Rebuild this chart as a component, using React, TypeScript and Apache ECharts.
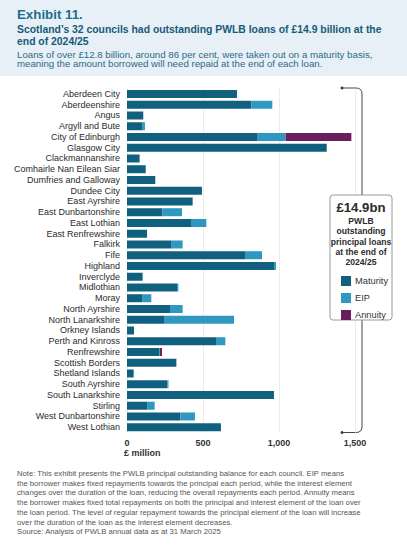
import React, { useEffect, useRef } from "react";
import * as echarts from "echarts";

const categories = [
  "Aberdeen City", "Aberdeenshire", "Angus", "Argyll and Bute", "City of Edinburgh",
  "Glasgow City", "Clackmannanshire", "Comhairle Nan Eilean Siar", "Dumfries and Galloway",
  "Dundee City", "East Ayrshire", "East Dunbartonshire", "East Lothian", "East Renfrewshire",
  "Falkirk", "Fife", "Highland", "Inverclyde", "Midlothian", "Moray", "North Ayrshire",
  "North Lanarkshire", "Orkney Islands", "Perth and Kinross", "Renfrewshire",
  "Scottish Borders", "Shetland Islands", "South Ayrshire", "South Lanarkshire",
  "Stirling", "West Dunbartonshire", "West Lothian",
];
const maturity = [724, 818, 107, 103, 860, 1314, 83, 123, 186, 493, 432, 232, 421, 132, 294, 781, 967, 103, 329, 99, 283, 248, 46, 590, 212, 325, 44, 265, 967, 132, 351, 618];
const eip = [0, 138, 0, 15, 184, 0, 0, 0, 0, 0, 0, 130, 101, 0, 72, 107, 13, 0, 9, 61, 83, 456, 0, 57, 4, 0, 0, 8, 0, 50, 96, 0];
const annuity = [0, 0, 0, 0, 432, 0, 0, 0, 0, 0, 0, 0, 0, 0, 0, 0, 0, 0, 0, 0, 0, 0, 0, 0, 14, 0, 0, 0, 0, 0, 0, 0];
const seriesNames = ["Maturity", "EIP", "Annuity"];
const xTicks = { min: 0, max: 1500, interval: 500 };

const titleLines = [
  "Scotland\u2019s 32 councils had outstanding PWLB loans of \u00a314.9 billion at the",
  "end of 2024/25",
];
const subtitleLines = [
  "Loans of over \u00a312.8 billion, around 86 per cent, were taken out on a maturity basis,",
  "meaning the amount borrowed will need repaid at the end of each loan.",
];
const noteLines = [
  "Note: This exhibit presents the PWLB principal outstanding balance for each council. EIP means",
  "the borrower makes fixed repayments towards the principal each period, while the interest element",
  "changes over the duration of the loan, reducing the overall repayments each period. Annuity means",
  "the borrower makes fixed total repayments on both the principal and interest element of the loan over",
  "the loan period. The level of regular repayment towards the principal element of the loan will increase",
  "over the duration of the loan as the interest element decreases.",
];
const sourceLine = "Source: Analysis of PWLB annual data as at 31 March 2025";
const boxHeadline = "\u00a314.9bn";
const boxLines = ["PWLB", "outstanding", "principal loans", "at the end of", "2024/25"];

const FONT = "'Liberation Sans', Arial, sans-serif";
const COLORS = ["#12607f", "#3098c0", "#6a1d5c"];

export default function App() {
  const ref = useRef<HTMLDivElement>(null);
  useEffect(() => {
    document.body.style.margin = "0";
    if (!ref.current) return;
    echarts.graphic.registerShape(
      "bracketTop",
      echarts.graphic.extendPath("M342,88 L356,88 Q362,88 362,94 L362,195", {})
    );
    echarts.graphic.registerShape(
      "bracketBottom",
      echarts.graphic.extendPath("M362,320 L362,426.5 Q362,432.5 356,432.5 L342,432.5", {})
    );
    const chart = echarts.init(ref.current, null, { renderer: "svg" });
    const seriesData = [maturity, eip, annuity];
    chart.setOption({
      animation: false,
      textStyle: { fontFamily: FONT },
      grid: { left: 127, right: 52, top: 88.6, height: 344, containLabel: false },
      legend: {
        orient: "vertical",
        left: 336,
        top: 271,
        itemWidth: 10,
        itemHeight: 10,
        itemGap: 7,
        icon: "rect",
        data: seriesNames,
        z: 10,
        textStyle: { fontSize: 9.3, color: "#333", fontFamily: FONT, padding: [0, 0, 0, -1] },
      },
      xAxis: {
        type: "value",
        min: xTicks.min,
        max: xTicks.max,
        interval: xTicks.interval,
        axisLine: { show: false },
        axisTick: { show: false },
        splitLine: { show: true, lineStyle: { color: "#ececec", width: 1 } },
        axisLabel: {
          fontSize: 9,
          fontWeight: "bold",
          color: "#333",
          margin: 6,
          formatter: (v: number) => v.toLocaleString("en-GB"),
        },
      },
      yAxis: {
        type: "category",
        data: categories,
        inverse: true,
        axisLine: { show: false },
        axisTick: { show: false },
        axisLabel: { interval: 0, fontSize: 9, color: "#2b2b2b", margin: 7 },
      },
      series: seriesNames.map((name, i) => ({
        name,
        type: "bar",
        stack: "total",
        barWidth: 8,
        itemStyle: { color: COLORS[i] },
        data: seriesData[i],
      })),
      graphic: [
        { type: "rect", z: -10, shape: { x: 0, y: 0, width: 407, height: 76 }, style: { fill: "#e7f0f7" } },
        { type: "text", x: 17, y: 14.5, style: { text: "Exhibit 11.", fontSize: 13.3, fontWeight: "bold", fill: "#1e6f8c", fontFamily: FONT, verticalAlign: "middle" } },
        { type: "text", x: 17, y: 29.5, style: { text: titleLines[0], fontSize: 10.4, fontWeight: "bold", fill: "#185a77", fontFamily: FONT, verticalAlign: "middle" } },
        { type: "text", x: 17, y: 41, style: { text: titleLines[1], fontSize: 10.4, fontWeight: "bold", fill: "#185a77", fontFamily: FONT, verticalAlign: "middle" } },
        { type: "text", x: 17, y: 54, style: { text: subtitleLines[0], fontSize: 9.7, fill: "#2c6a86", fontFamily: FONT, verticalAlign: "middle" } },
        { type: "text", x: 17, y: 63.5, style: { text: subtitleLines[1], fontSize: 9.7, fill: "#2c6a86", fontFamily: FONT, verticalAlign: "middle" } },
        { type: "text", x: 124, y: 452.5, style: { text: "\u00a3 million", fontSize: 9, fontWeight: "bold", fill: "#333", fontFamily: FONT, verticalAlign: "middle" } },
        { type: "bracketTop", x: 0, y: 0, style: { fill: "none", stroke: "#444", lineWidth: 1 } },
        { type: "bracketBottom", x: 0, y: 0, style: { fill: "none", stroke: "#444", lineWidth: 1 } },
        { type: "circle", shape: { cx: 342, cy: 88, r: 1.4 }, style: { fill: "#333" } },
        { type: "circle", shape: { cx: 342, cy: 432.5, r: 1.4 }, style: { fill: "#333" } },
        { type: "rect", z: 1, shape: { x: 330, y: 195, width: 62, height: 125, r: 3 }, style: { fill: "#fff", stroke: "#9a9a9a", lineWidth: 1 } },
        { type: "text", z: 2, x: 361, y: 207, style: { text: boxHeadline, fontSize: 13.2, fontWeight: "bold", fill: "#2b2b2b", fontFamily: FONT, align: "center", verticalAlign: "middle" } },
        { type: "text", z: 2, x: 361, y: 215.5, style: { text: boxLines.join("\n"), fontSize: 8.6, lineHeight: 10.4, fontWeight: "bold", fill: "#2b2b2b", fontFamily: FONT, align: "center", verticalAlign: "top" } },
        ...noteLines.map((t, i) => ({
          type: "text", x: 17, y: 473.3 + i * 9.75,
          style: { text: t, fontSize: 7.7, fill: "#555", fontFamily: FONT, verticalAlign: "middle" },
        })),
        { type: "text", x: 17, y: 531.7, style: { text: sourceLine, fontSize: 7.7, fill: "#555", fontFamily: FONT, verticalAlign: "middle" } },
      ],
    });
    return () => chart.dispose();
  }, []);
  return <div ref={ref} style={{ width: 407, height: 550 }} />;
}
